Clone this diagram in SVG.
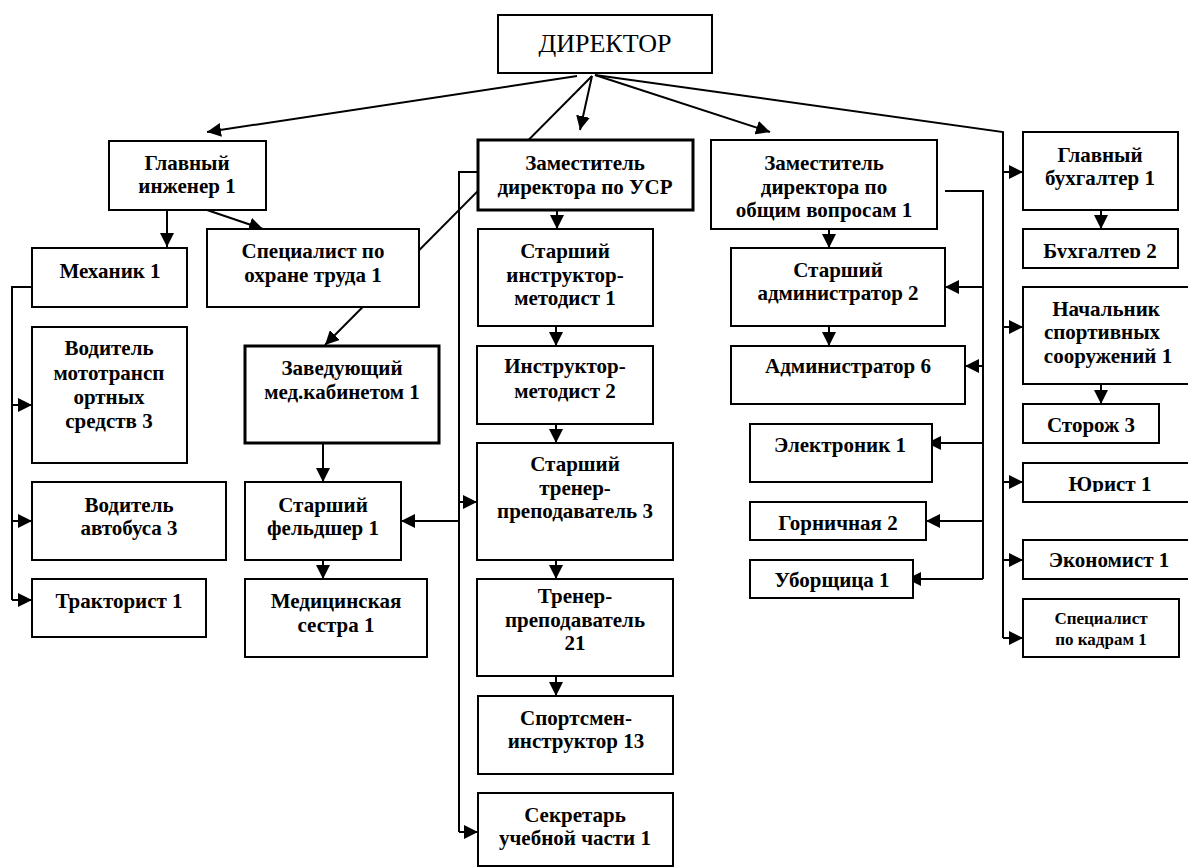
<svg xmlns="http://www.w3.org/2000/svg" width="1188" height="868" viewBox="0 0 1188 868">
<defs>
<marker id="ah" markerUnits="userSpaceOnUse" markerWidth="14" markerHeight="14" refX="14" refY="7" orient="auto"><path d="M0,0 L14,7 L0,14 z" fill="#000"/></marker>
<clipPath id="clipAcc"><rect x="1024" y="230" width="154" height="28"/></clipPath>
<clipPath id="clipLaw"><rect x="1024" y="464" width="164" height="28"/></clipPath>
<style>
.b{fill:#fff;stroke:#000;stroke-width:2}
.bt{fill:#fff;stroke:#000;stroke-width:3}
.t{font-family:"Liberation Serif","Times New Roman",serif;font-weight:bold;font-size:21px;text-anchor:middle;fill:#000}
.ts{font-size:17px}
.c{fill:none;stroke:#000;stroke-width:2}
.a{fill:none;stroke:#000;stroke-width:2;marker-end:url(#ah)}
</style>
</defs>
<rect width="1188" height="868" fill="#fff"/>
<g id="connectors">
<line class="a" x1="577" y1="76" x2="207" y2="132"/>
<line class="a" x1="592" y1="76" x2="325" y2="345"/>
<line class="a" x1="592" y1="76" x2="580" y2="130"/>
<line class="a" x1="595" y1="75" x2="770" y2="132"/>
<polyline class="c" points="595,75 1003,132 1003,638"/>
<line class="a" x1="167" y1="210" x2="167" y2="247"/>
<line class="a" x1="207" y1="210" x2="263" y2="229"/>
<polyline class="c" points="32,287 12,287 12,600"/>
<line class="a" x1="12" y1="405" x2="32" y2="405"/>
<line class="a" x1="12" y1="521" x2="32" y2="521"/>
<line class="a" x1="12" y1="600" x2="32" y2="600"/>
<line class="a" x1="323" y1="443" x2="323" y2="482"/>
<line class="a" x1="323" y1="560" x2="323" y2="579"/>
<polyline class="c" points="478,172 459,172 459,832"/>
<line class="a" x1="459" y1="521" x2="401" y2="521"/>
<line class="a" x1="459" y1="502" x2="477" y2="502"/>
<line class="a" x1="459" y1="832" x2="478" y2="832"/>
<line class="a" x1="557" y1="210" x2="557" y2="229"/>
<line class="a" x1="556" y1="326" x2="556" y2="346"/>
<line class="a" x1="556" y1="424" x2="556" y2="443"/>
<line class="a" x1="556" y1="560" x2="556" y2="579"/>
<line class="a" x1="556" y1="676" x2="556" y2="696"/>
<polyline class="c" points="945,191 983,191 983,579"/>
<line class="a" x1="829" y1="229" x2="829" y2="248"/>
<line class="a" x1="829" y1="326" x2="829" y2="346"/>
<line class="a" x1="983" y1="287" x2="945" y2="287"/>
<line class="a" x1="983" y1="366" x2="965" y2="366"/>
<line class="a" x1="983" y1="443" x2="927" y2="443"/>
<line class="a" x1="983" y1="521" x2="926" y2="521"/>
<line class="a" x1="983" y1="579" x2="907" y2="579"/>
<line class="a" x1="1003" y1="172" x2="1023" y2="172"/>
<line class="a" x1="1003" y1="327" x2="1023" y2="327"/>
<line class="a" x1="1003" y1="482" x2="1023" y2="482"/>
<line class="a" x1="1003" y1="560" x2="1023" y2="560"/>
<line class="a" x1="1003" y1="638" x2="1023" y2="638"/>
<line class="a" x1="1101" y1="210" x2="1101" y2="229"/>
<line class="a" x1="1101" y1="384" x2="1101" y2="404"/>
</g>
<g id="director"><rect class="b" x="498" y="15" width="214" height="58"/><text x="605" y="52" font-family="Liberation Serif, serif" font-size="26" text-anchor="middle">ДИРЕКТОР</text></g>
<g id="chief-engineer"><rect class="b" x="109" y="141" width="157" height="69"/><text class="t" x="187" y="170">Главный</text><text class="t" x="187" y="193">инженер 1</text></g>
<g id="mechanic"><rect class="b" x="32" y="248" width="155" height="59"/><text class="t" x="110" y="278">Механик 1</text></g>
<g id="safety"><rect class="b" x="207" y="229" width="212" height="78"/><text class="t" x="313" y="258">Специалист по</text><text class="t" x="313" y="282">охране труда 1</text></g>
<g id="driver-moto"><rect class="b" x="32" y="327" width="155" height="136"/><text class="t" x="109" y="355">Водитель</text><text class="t" x="109" y="380">мототрансп</text><text class="t" x="109" y="404">ортных</text><text class="t" x="109" y="428">средств 3</text></g>
<g id="driver-bus"><rect class="b" x="32" y="482" width="194" height="78"/><text class="t" x="129" y="512">Водитель</text><text class="t" x="129" y="535">автобуса 3</text></g>
<g id="tractor"><rect class="b" x="32" y="579" width="174" height="58"/><text class="t" x="119" y="608">Тракторист 1</text></g>
<g id="med-head"><rect class="bt" x="245" y="346" width="194" height="97"/><text class="t" x="342" y="375">Заведующий</text><text class="t" x="342" y="399">мед.кабинетом 1</text></g>
<g id="feldsher"><rect class="b" x="245" y="482" width="156" height="78"/><text class="t" x="323" y="512">Старший</text><text class="t" x="323" y="535">фельдшер 1</text></g>
<g id="nurse"><rect class="b" x="245" y="579" width="182" height="78"/><text class="t" x="336" y="608">Медицинская</text><text class="t" x="336" y="632">сестра 1</text></g>
<g id="deputy-usr"><rect class="bt" x="478" y="140" width="215" height="70"/><text class="t" x="585" y="170">Заместитель</text><text class="t" x="585" y="194">директора по УСР</text></g>
<g id="senior-instructor"><rect class="b" x="478" y="229" width="175" height="97"/><text class="t" x="565" y="258">Старший</text><text class="t" x="565" y="282">инструктор-</text><text class="t" x="565" y="305">методист 1</text></g>
<g id="instructor"><rect class="b" x="477" y="346" width="176" height="78"/><text class="t" x="565" y="373">Инструктор-</text><text class="t" x="565" y="398">методист 2</text></g>
<g id="senior-coach"><rect class="b" x="477" y="443" width="196" height="117"/><text class="t" x="575" y="471">Старший</text><text class="t" x="575" y="495">тренер-</text><text class="t" x="575" y="518">преподаватель 3</text></g>
<g id="coach"><rect class="b" x="477" y="579" width="196" height="97"/><text class="t" x="575" y="603">Тренер-</text><text class="t" x="575" y="627">преподаватель</text><text class="t" x="575" y="650">21</text></g>
<g id="athlete"><rect class="b" x="478" y="696" width="195" height="78"/><text class="t" x="576" y="725">Спортсмен-</text><text class="t" x="576" y="748">инструктор 13</text></g>
<g id="secretary"><rect class="b" x="478" y="793" width="195" height="73"/><text class="t" x="575" y="822">Секретарь</text><text class="t" x="575" y="845">учебной части 1</text></g>
<g id="deputy-general"><rect class="b" x="711" y="140" width="226" height="89"/><text class="t" x="824" y="170">Заместитель</text><text class="t" x="824" y="194">директора по</text><text class="t" x="824" y="217">общим вопросам 1</text></g>
<g id="senior-admin"><rect class="b" x="731" y="248" width="214" height="78"/><text class="t" x="838" y="277">Старший</text><text class="t" x="838" y="300">администратор 2</text></g>
<g id="admin"><rect class="b" x="731" y="346" width="234" height="58"/><text class="t" x="848" y="373">Администратор 6</text></g>
<g id="electronic"><rect class="b" x="750" y="424" width="182" height="58"/><text class="t" x="840" y="452">Электроник 1</text></g>
<g id="maid"><rect class="b" x="750" y="502" width="176" height="38"/><text class="t" x="838" y="530">Горничная 2</text></g>
<g id="cleaner"><rect class="b" x="750" y="560" width="163" height="38"/><text class="t" x="832" y="587">Уборщица 1</text></g>
<g id="chief-accountant"><rect class="b" x="1023" y="132" width="155" height="78"/><text class="t" x="1100" y="162">Главный</text><text class="t" x="1100" y="185">бухгалтер 1</text></g>
<g id="accountant"><rect class="b" x="1023" y="229" width="155" height="39"/><text class="t" x="1100" y="258" clip-path="url(#clipAcc)">Бухгалтер 2</text></g>
<g id="facilities"><rect class="b" x="1023" y="287" width="166" height="97"/><text class="t" x="1106" y="316">Начальник</text><text class="t" x="1102" y="339">спортивных</text><text class="t" x="1108" y="363">сооружений 1</text></g>
<g id="guard"><rect class="b" x="1023" y="404" width="136" height="39"/><text class="t" x="1091" y="432">Сторож 3</text></g>
<g id="lawyer"><rect class="b" x="1023" y="463" width="166" height="39"/><text class="t" x="1110" y="491" clip-path="url(#clipLaw)">Юрист 1</text></g>
<g id="economist"><rect class="b" x="1023" y="540" width="166" height="39"/><text class="t" x="1109" y="567">Экономист 1</text></g>
<g id="hr"><rect class="b" x="1023" y="599" width="156" height="58"/><text class="t ts" x="1101" y="624">Специалист</text><text class="t ts" x="1101" y="645">по кадрам 1</text></g>
</svg>
